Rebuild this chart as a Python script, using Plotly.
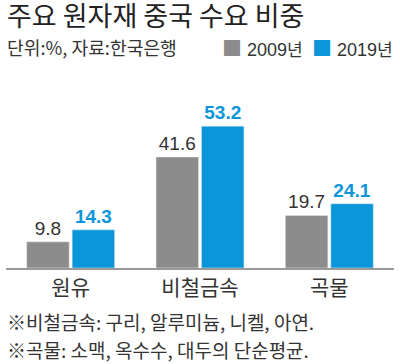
import plotly.graph_objects as go

categories = ["원유", "비철금속", "곡물"]
values_2009 = [9.8, 41.6, 19.7]
values_2019 = [14.3, 53.2, 24.1]
series_names = ["2009년", "2019년"]

title = "주요 원자재 중국 수요 비중"
subtitle = "단위:%, 자료:한국은행"
notes = ["※비철금속: 구리, 알루미늄, 니켈, 아연.", "※곡물: 소맥, 옥수수, 대두의 단순평균."]

GRAY = "#8c8c8c"
BLUE = "#0a96d8"
KR = "Noto Sans CJK KR"
NUM = "Liberation Sans, Arial, " + KR

PLOT_TOP, PLOT_BOTTOM = 100, 268
PLOT_H = PLOT_BOTTOM - PLOT_TOP
PLOT_L, PLOT_R = 6, 394
PLOT_W = PLOT_R - PLOT_L


def py(Y):
    return (PLOT_BOTTOM - Y) / PLOT_H


def px(X):
    return (X - PLOT_L) / PLOT_W


fig = go.Figure()
fig.add_trace(go.Bar(
    x=categories, y=values_2009, name=series_names[0], marker_color=GRAY,
    text=[f"{v:.1f}" for v in values_2009], textposition="outside",
    textfont=dict(family=NUM, size=19, color="#333333"), cliponaxis=False,
))
fig.add_trace(go.Bar(
    x=categories, y=values_2019, name=series_names[1], marker_color=BLUE,
    text=[f"<b>{v:.1f}</b>" for v in values_2019], textposition="outside",
    textfont=dict(family=NUM, size=19, color=BLUE), cliponaxis=False,
))

fig.update_layout(
    width=400, height=364,
    margin=dict(l=PLOT_L, r=400 - PLOT_R, t=PLOT_TOP, b=364 - PLOT_BOTTOM,
                autoexpand=False),
    paper_bgcolor="white", plot_bgcolor="white",
    barmode="group", bargap=0.297, bargroupgap=0.065,
    showlegend=False,
    xaxis=dict(showline=True, linecolor="#999999", linewidth=1.5, ticks="",
               tickfont=dict(family=KR, size=21, color="#333333"), showgrid=False,
               automargin=False),
    yaxis=dict(range=[0, 63], visible=False, showgrid=False, automargin=False),
    font=dict(family=KR),
)
fig.add_annotation(text=title, x=px(5), y=py(14), xref="paper", yref="paper",
                   xanchor="left", yanchor="middle", showarrow=False,
                   font=dict(family=KR, size=27, color="#222222"))
fig.add_annotation(text=subtitle, x=px(5), y=py(47), xref="paper", yref="paper",
                   xanchor="left", yanchor="middle", showarrow=False,
                   font=dict(family=KR, size=18.2, color="#333333"))

# legend drawn as text swatches
legend_colors = [GRAY, BLUE]
legend_x = [220, 310]
for name, col, lx in zip(series_names, legend_colors, legend_x):
    fig.add_annotation(
        text=(f"<span style='color:{col};font-size:20px'>■</span>"
              f"<span style='font-family:{NUM};font-size:18px'> {name[:-1]}</span>{name[-1]}"),
        x=px(lx), y=py(47), xref="paper", yref="paper",
        xanchor="left", yanchor="middle", showarrow=False,
        font=dict(family=KR, size=17, color="#333333"))

fig.add_annotation(text=notes[0], x=px(5), y=py(321), xref="paper", yref="paper",
                   xanchor="left", yanchor="middle", showarrow=False,
                   font=dict(family=KR, size=19, color="#333333"))
fig.add_annotation(text=notes[1], x=px(5), y=py(349), xref="paper", yref="paper",
                   xanchor="left", yanchor="middle", showarrow=False,
                   font=dict(family=KR, size=19, color="#333333"))

fig.write_html("out.html", config={"displayModeBar": False},
               post_script="document.body.style.margin='0';document.body.style.overflow='hidden';")
